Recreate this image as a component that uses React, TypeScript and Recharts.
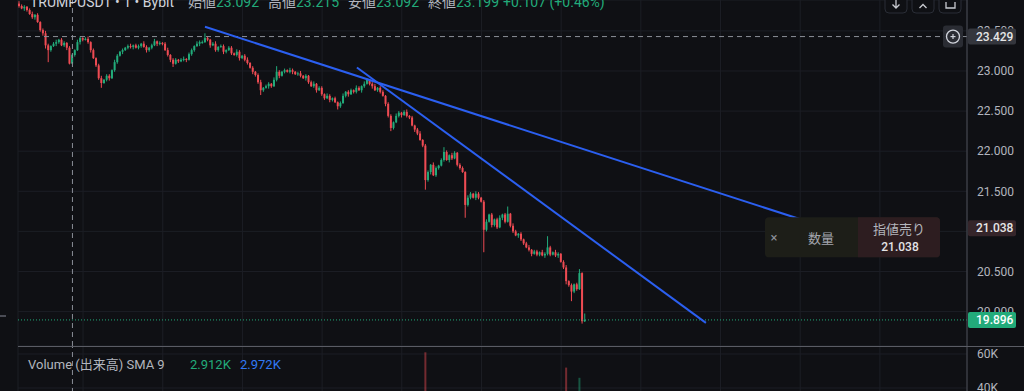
import React from 'react';
import { ComposedChart, Bar, XAxis, YAxis, CartesianGrid, ReferenceLine, Cell } from 'recharts';

// 1 minute candles, TRUMPUSDT (Bybit)
const firstOpen = 23.84;
const closes = [
  23.81, 23.78, 23.8, 23.76, 23.71, 23.67, 23.7, 23.61, 23.51, 23.47,
  23.32, 23.26, 23.31, 23.34, 23.36, 23.39, 23.32, 23.35, 23.29, 23.092,
  23.199, 23.26, 23.36, 23.41, 23.39, 23.4, 23.36, 23.26, 23.16, 23.07,
  22.91, 22.85, 22.89, 22.94, 22.91, 23.01, 23.11, 23.19, 23.24, 23.26,
  23.29, 23.31, 23.3, 23.32, 23.29, 23.31, 23.34, 23.3, 23.26, 23.29,
  23.32, 23.37, 23.34, 23.35, 23.34, 23.26, 23.2, 23.14, 23.09, 23.14,
  23.12, 23.14, 23.15, 23.14, 23.21, 23.26, 23.31, 23.34, 23.36, 23.36,
  23.41, 23.39, 23.32, 23.34, 23.26, 23.3, 23.31, 23.24, 23.26, 23.29,
  23.22, 23.2, 23.24, 23.16, 23.19, 23.14, 23.1, 23.04, 22.99, 22.95,
  22.86, 22.76, 22.79, 22.81, 22.84, 22.81, 22.89, 22.99, 22.94, 22.99,
  23.01, 22.99, 23.01, 22.99, 22.96, 22.97, 22.94, 22.91, 22.94, 22.86,
  22.81, 22.84, 22.76, 22.79, 22.71, 22.66, 22.69, 22.64, 22.66, 22.61,
  22.56, 22.6, 22.69, 22.74, 22.71, 22.76, 22.74, 22.79, 22.76, 22.81,
  22.84, 22.89, 22.84, 22.81, 22.76, 22.79, 22.74, 22.69, 22.59, 22.44,
  22.29, 22.36, 22.44, 22.48, 22.45, 22.49, 22.44, 22.42, 22.32, 22.27,
  22.22, 22.14, 22.07, 21.64, 21.74, 21.83, 21.7, 21.79, 21.82, 21.89,
  21.99, 21.89, 21.95, 21.91, 21.98, 21.83, 21.79, 21.74, 21.33, 21.42,
  21.47, 21.42, 21.47, 21.42, 21.37, 21.02, 21.12, 21.21, 21.08, 21.15,
  21.05, 21.17, 21.21, 21.12, 21.22, 21.07, 21.0, 20.95, 20.97, 20.9,
  20.85, 20.8, 20.77, 20.72, 20.75, 20.71, 20.74, 20.7, 20.72, 20.8,
  20.71, 20.74, 20.7, 20.72, 20.62, 20.55, 20.38, 20.33, 20.25, 20.34,
  20.28, 20.48, 19.88, 19.896,
];
// wick lengths above / below the body, in cents
const upWicks = [
  3, 2, 2, 1, 2, 3, 1, 2, 1, 2,
  3, 2, 1, 2, 3, 1, 2, 2, 1, 2,
  1.6, 1, 3, 2, 1, 2, 3, 1, 2, 1,
  2, 3, 1, 2, 2, 1, 3, 2, 1, 2,
  1, 2, 3, 1, 2, 2, 1, 3, 2, 1,
  2, 3, 1, 2, 1, 2, 3, 1, 2, 2,
  1, 2, 3, 1, 2, 2, 1, 3, 2, 2,
  6, 2, 1, 2, 3, 1, 2, 2, 1, 2,
  2, 1, 3, 2, 1, 2, 3, 1, 2, 1,
  2, 3, 1, 2, 2, 1, 3, 7, 2, 1,
  2, 1, 3, 2, 1, 2, 3, 1, 2, 1,
  2, 3, 1, 2, 2, 1, 3, 2, 1, 2,
  1, 2, 3, 1, 2, 2, 1, 3, 2, 1,
  3, 2, 1, 2, 3, 1, 2, 2, 1, 2,
  2, 1, 3, 2, 1, 2, 3, 1, 2, 1,
  2, 3, 1, 2, 2, 1, 3, 2, 1, 2,
  6, 2, 1, 3, 2, 1, 2, 2, 1, 3,
  2, 1, 3, 2, 1, 2, 3, 1, 2, 1,
  2, 3, 1, 2, 9, 1, 3, 2, 1, 2,
  1, 2, 3, 1, 2, 2, 1, 3, 2, 14,
  2, 1, 3, 2, 1, 2, 3, 1, 2, 1,
  2, 5, 1, 8,
];
const downWicks = [
  2, 1, 3, 2, 1, 2, 3, 1, 2, 3,
  4, 15, 2, 1, 3, 2, 1, 2, 3, 1,
  0, 2, 1, 3, 2, 1, 2, 3, 1, 2,
  2, 6, 1, 2, 3, 1, 2, 2, 1, 3,
  1, 2, 2, 3, 1, 2, 2, 1, 3, 2,
  2, 1, 3, 2, 2, 1, 2, 3, 4, 1,
  2, 1, 2, 3, 1, 2, 2, 1, 3, 2,
  1, 2, 3, 1, 2, 2, 1, 3, 2, 1,
  2, 1, 2, 3, 1, 2, 2, 1, 3, 2,
  2, 6, 2, 1, 3, 2, 1, 2, 3, 1,
  2, 1, 2, 3, 1, 2, 2, 1, 3, 2,
  1, 2, 3, 1, 2, 2, 1, 3, 2, 1,
  4, 2, 1, 2, 3, 1, 2, 2, 1, 3,
  2, 1, 2, 3, 1, 2, 2, 1, 3, 2,
  4, 2, 1, 2, 3, 1, 2, 2, 1, 3,
  2, 1, 2, 12, 2, 3, 1, 2, 2, 1,
  2, 1, 3, 2, 1, 2, 2, 1, 16, 2,
  2, 1, 3, 2, 1, 28, 2, 1, 3, 2,
  2, 1, 3, 2, 1, 2, 2, 1, 3, 2,
  2, 1, 2, 3, 1, 2, 2, 1, 3, 2,
  2, 1, 2, 3, 1, 2, 4, 2, 12, 2,
  2, 1, 3, 1,
];
// volume in thousands
const volumes = [
  5, 4, 3, 4, 3, 5, 2, 4, 6, 5,
  8, 9, 4, 3, 3, 2, 3, 2, 4, 6,
  4, 3, 4, 3, 2, 3, 2, 4, 5, 6,
  9, 7, 3, 3, 2, 4, 5, 4, 3, 2,
  2, 3, 2, 2, 3, 2, 2, 3, 2, 3,
  3, 4, 2, 2, 3, 4, 5, 4, 6, 3,
  2, 2, 3, 2, 3, 4, 3, 3, 2, 3,
  5, 3, 4, 3, 4, 2, 2, 3, 3, 2,
  3, 3, 2, 3, 2, 3, 3, 4, 4, 5,
  8, 9, 4, 3, 3, 3, 5, 6, 3, 3,
  2, 2, 2, 3, 2, 2, 3, 3, 2, 3,
  4, 3, 4, 3, 4, 4, 3, 3, 2, 4,
  5, 3, 4, 3, 2, 3, 2, 3, 2, 3,
  3, 3, 2, 3, 3, 3, 4, 3, 6, 10,
  14, 7, 5, 4, 3, 3, 3, 4, 6, 5,
  6, 8, 9, 61, 24, 14, 12, 9, 7, 6,
  10, 7, 5, 5, 4, 6, 5, 7, 30, 15,
  9, 7, 6, 5, 6, 36, 16, 10, 8, 7,
  7, 6, 6, 5, 9, 8, 6, 6, 5, 5,
  6, 6, 5, 6, 5, 5, 4, 5, 4, 12,
  6, 5, 5, 4, 8, 10, 52, 20, 24, 14,
  12, 46, 35, 10,
];

const timeTicks = [24, 54, 84, 114, 144, 174, 204, 234, 264, 294, 324];
const priceTicks = [20, 20.5, 21, 21.5, 22, 22.5, 23, 23.5];
const volumeTicks = [40, 60];

const trendLines = [
  { from: [69.9, 23.551], to: [305.2, 21.032] },
  { from: [127.1, 23.044], to: [258.5, 19.859] },
];
const crosshair = { index: 20, price: 23.429 };
const lastPrice = 19.896;
const limitPrice = 21.038;
const ohlc = [
  ['始値', '23.092'],
  ['高値', '23.215'],
  ['安値', '23.092'],
  ['終値', '23.199'],
];
const change = '+0.107 (+0.46%)';
const volLegend = { label: 'Volume (出来高) SMA 9', vol: '2.912K', sma: '2.972K' };

const X_DOMAIN = [-0.5, 356.8];
const PRICE_DOMAIN = [19.571, 23.885];
const VOL_DOMAIN = [0, 64.7];

const W = 1024;
const PRICE_H = 346;
const VOL_H = 110;
const PLOT_LEFT = 18;
const AXIS_W = 57;
const AXIS_X = W - AXIS_W;

const BG = '#0f1014';
const GRID = '#1c1e25';
const UP = '#22ab7a';
const DOWN = '#ee4b53';
const TEXT = '#b2b5be';
const BLUE = '#2b5ff0';
const CROSS = '#8b8e97';
const AXIS = '#4a4c55';
const FONT = "Roboto, 'Noto Sans CJK JP', sans-serif";

const candles = closes.map((c, i) => {
  const o = i === 0 ? firstOpen : closes[i - 1];
  const hi = Math.max(o, c) + upWicks[i] / 100;
  const lo = Math.min(o, c) - downWicks[i] / 100;
  return { i, o, c, hi, lo, range: [lo, hi], vol: volumes[i] };
});

// same linear mapping as the price YAxis (domain -> plot height)
const priceY = (p: number) => (PRICE_H * (PRICE_DOMAIN[1] - p)) / (PRICE_DOMAIN[1] - PRICE_DOMAIN[0]);

function Candle(props: any) {
  const { x, y, width, height, payload } = props;
  if (!payload) return null;
  const { o, c, hi, lo } = payload;
  const span = hi - lo || 1;
  const py = (p: number) => y + ((hi - p) / span) * height;
  const color = c >= o ? UP : DOWN;
  const top = py(Math.max(o, c));
  const bot = py(Math.min(o, c));
  const cx = x + width / 2;
  return (
    <g>
      <line x1={cx} x2={cx} y1={y} y2={y + height} stroke={color} strokeWidth={1} />
      <rect x={x} y={top} width={width} height={Math.max(1, bot - top)} fill={color} />
    </g>
  );
}

function PriceTag({ price, fill, color }: { price: number; fill: string; color: string }) {
  const y = priceY(price);
  return (
    <g>
      <rect x={AXIS_X + 1} y={y - 8} width={48} height={16} rx={2} fill={fill} />
      <text x={AXIS_X + 9} y={y} dominantBaseline="central" fontSize={12} fontWeight={500} fill={color}>
        {price.toFixed(3)}
      </text>
    </g>
  );
}

function OrderPanel(props: any) {
  const { viewBox, priceText } = props;
  if (!viewBox) return null;
  const ax = viewBox.x + viewBox.width;
  const y = viewBox.y;
  const left = ax - 202;
  const split = ax - 109;
  const right = ax - 27;
  const top = y - 11;
  return (
    <g fontFamily={FONT}>
      <rect x={left} y={top} width={right - left} height={40} rx={4} fill="#1d1e18" />
      <path d={`M${split} ${top} H${right - 4} Q${right} ${top} ${right} ${top + 4} V${top + 36} Q${right} ${top + 40} ${right - 4} ${top + 40} H${split} Z`} fill="#2d1d20" />
      <text x={left + 9} y={top + 20} dominantBaseline="central" textAnchor="middle" fontSize={13} fill="#8d9099">×</text>
      <text x={left + 56} y={top + 21} dominantBaseline="central" textAnchor="middle" fontSize={13} fill="#a3a6ae">数量</text>
      <text x={split + 41} y={top + 12} dominantBaseline="central" textAnchor="middle" fontSize={13} fill="#b3b5bc">指値売り</text>
      <text x={split + 42} y={top + 30} dominantBaseline="central" textAnchor="middle" fontSize={12} fontWeight={500} fill="#e3e3e6">{priceText}</text>
    </g>
  );
}

export default function App() {
  const cy = priceY(crosshair.price);
  return (
    <div style={{ position: 'absolute', left: 0, top: 0, width: W, height: 391, overflow: 'hidden', background: BG }}>
      <div style={{ position: 'absolute', left: 0, top: 0 }}>
        <ComposedChart width={W} height={PRICE_H} data={candles} margin={{ top: 0, right: 0, left: PLOT_LEFT, bottom: 0 }}>
          <CartesianGrid stroke={GRID} />
          <XAxis dataKey="i" type="number" domain={X_DOMAIN} allowDataOverflow ticks={timeTicks} hide />
          <YAxis
            orientation="right"
            width={AXIS_W}
            domain={PRICE_DOMAIN}
            allowDataOverflow
            ticks={priceTicks}
            tickFormatter={(v: number) => v.toFixed(3)}
            tick={{ fill: TEXT, fontSize: 12, fontFamily: FONT, textAnchor: 'start' }}
            tickLine={false}
            tickSize={0}
            tickMargin={10}
            axisLine={{ stroke: AXIS }}
          />
          <ReferenceLine x={crosshair.index} stroke={CROSS} strokeDasharray="5 4" />
          <ReferenceLine y={crosshair.price} stroke={CROSS} strokeDasharray="5 4" />
          <ReferenceLine y={lastPrice} stroke={UP} strokeDasharray="1 2" />
          <Bar dataKey="range" barSize={2} shape={Candle} isAnimationActive={false} />
          {trendLines.map((t, k) => (
            <ReferenceLine
              key={k}
              segment={[{ x: t.from[0], y: t.from[1] }, { x: t.to[0], y: t.to[1] }]}
              stroke={BLUE}
              strokeWidth={2}
            />
          ))}
          <ReferenceLine y={limitPrice} stroke="none" label={<OrderPanel priceText={limitPrice.toFixed(3)} />} />
        </ComposedChart>
      </div>
      <div style={{ position: 'absolute', left: 0, top: PRICE_H }}>
        <ComposedChart width={W} height={VOL_H} data={candles} margin={{ top: 0, right: 0, left: PLOT_LEFT, bottom: 0 }}>
          <CartesianGrid stroke={GRID} />
          <XAxis dataKey="i" type="number" domain={X_DOMAIN} allowDataOverflow ticks={timeTicks} hide />
          <YAxis
            orientation="right"
            width={AXIS_W}
            domain={VOL_DOMAIN}
            allowDataOverflow
            ticks={volumeTicks}
            tickFormatter={(v: number) => `${v}K`}
            tick={{ fill: TEXT, fontSize: 12, fontFamily: FONT, textAnchor: 'start' }}
            tickLine={false}
            tickSize={0}
            tickMargin={10}
            axisLine={{ stroke: AXIS }}
          />
          <ReferenceLine x={crosshair.index} stroke={CROSS} strokeDasharray="5 4" />
          <Bar dataKey="vol" barSize={2} isAnimationActive={false}>
            {candles.map((d) => (
              <Cell key={d.i} fill={d.c >= d.o ? UP : DOWN} fillOpacity={0.45} />
            ))}
          </Bar>
        </ComposedChart>
      </div>
      <svg width={W} height={391} style={{ position: 'absolute', left: 0, top: 0, pointerEvents: 'none' }} fontFamily={FONT}>
        <line x1={PLOT_LEFT} x2={W} y1={PRICE_H + 0.5} y2={PRICE_H + 0.5} stroke="#5a5c64" />
        <rect x={0} y={315} width={6} height={2} fill="#4a4c55" />

        <g>
          <rect x={AXIS_X - 24} y={cy - 11} width={20} height={22} rx={3} fill="#2a2c33" />
          <circle cx={AXIS_X - 14} cy={cy} r={6.5} fill="none" stroke="#d1d4dc" strokeWidth={1.3} />
          <line x1={AXIS_X - 16.5} x2={AXIS_X - 11.5} y1={cy} y2={cy} stroke="#d1d4dc" strokeWidth={1.2} />
          <line x1={AXIS_X - 14} x2={AXIS_X - 14} y1={cy - 2.5} y2={cy + 2.5} stroke="#d1d4dc" strokeWidth={1.2} />
        </g>
        <PriceTag price={crosshair.price} fill="#34363d" color="#e6e6e6" />
        <PriceTag price={limitPrice} fill="#35252a" color="#e6e6e6" />
        <PriceTag price={lastPrice} fill={UP} color="#ffffff" />

        <text x={30} y={7} fontSize={14} fill="#d1d4dc">TRUMPUSDT • 1 • Bybit</text>
        {ohlc.map(([k, v], n) => (
          <text key={k} x={188 + n * 80} y={7} fontSize={14}>
            <tspan fill={TEXT}>{k}</tspan>
            <tspan fill={UP}>{v}</tspan>
          </text>
        ))}
        <text x={503} y={7} fontSize={14} fill={UP}>{change}</text>
        {[885, 912, 939].map((bx) => (
          <rect key={bx} x={bx} y={-9} width={22} height={22} rx={4} fill={BG} stroke="#2a2d36" />
        ))}
        <path d="M896 0 V8 M892.5 4.5 L896 8 L899.5 4.5" stroke="#c8cad0" strokeWidth={1.3} fill="none" />
        <path d="M919.5 8 L923 4.5 L926.5 8" stroke="#c8cad0" strokeWidth={1.3} fill="none" />
        <path d="M946 2 V8 H955 V2" stroke="#c8cad0" strokeWidth={1.3} fill="none" />

        <text x={28} y={369} fontSize={13} fill={TEXT}>{volLegend.label}</text>
        <text x={190} y={369} fontSize={13} fill={UP}>{volLegend.vol}</text>
        <text x={240} y={369} fontSize={13} fill="#3179f5">{volLegend.sma}</text>
      </svg>
    </div>
  );
}
